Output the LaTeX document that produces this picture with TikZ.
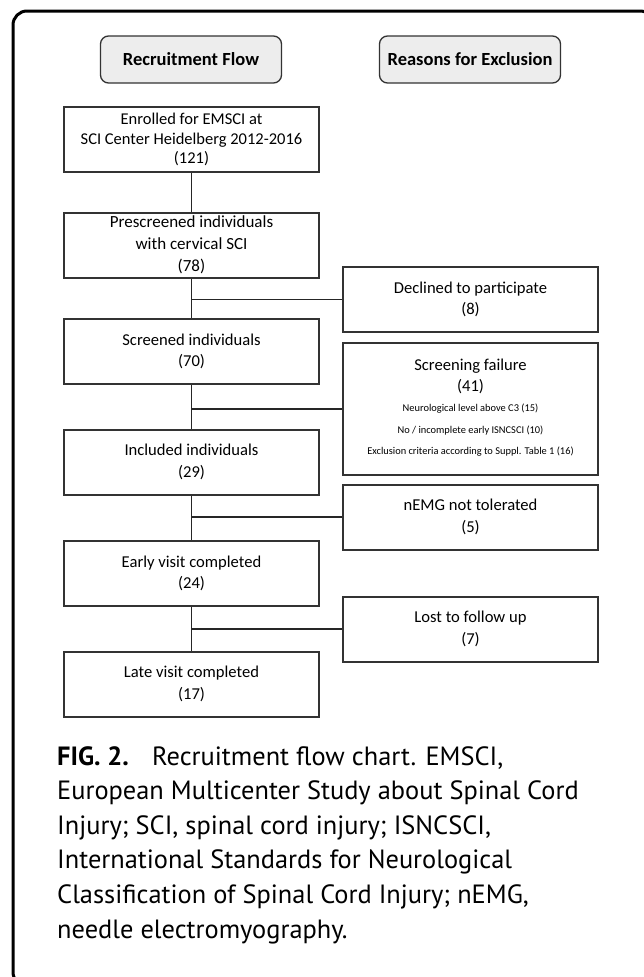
\documentclass[tikz,border=0pt]{standalone}
\usepackage{fontspec}
\setmainfont{Carlito}
\newfontfamily\capfont{PT Sans}
\begin{document}
\begin{tikzpicture}[x=1pt,y=-1pt,
  frame/.style={line width=3pt, rounded corners=14pt},
  headbox/.style={draw=black!80, fill=black!7, line width=1.3pt, rounded corners=8pt,
    minimum width=181pt, minimum height=47pt, inner sep=0pt, font=\fontsize{18.5}{22}\selectfont\bfseries},
  flowbox/.style={draw=black!80, line width=2pt, minimum width=255pt, minimum height=65pt,
    inner sep=0pt, align=center, font=\fontsize{16.6}{21.5}\selectfont},
  small/.style={font=\fontsize{10.4}{12}\selectfont},
  link/.style={draw=black!85, line width=1.5pt}
]
\useasboundingbox (0,0) rectangle (644,977);
\begin{scope}
\clip (0,0) rectangle (644,977);
\draw[frame] (13,11) rectangle (654,986);
\end{scope}

% headers
\node[headbox] (hflow) at (191,59.5) {Recruitment Flow};
\node[headbox] (hexcl) at (470,59.5) {Reasons for Exclusion};

% left column
\node[flowbox, line width=2.6pt, font=\fontsize{16.5}{19.5}\selectfont] (enr) at (191.5,139.5) {Enrolled for EMSCI at\\SCI Center Heidelberg 2012-2016\\(121)};
\node[flowbox, font=\fontsize{17}{22}\selectfont] (pre) at (191.5,245) {Prescreened individuals\\with cervical SCI\\(78)};
\node[flowbox] (scr) at (191.5,351.5) {Screened individuals\\(70)};
\node[flowbox] (inc) at (191.5,462) {Included individuals\\(29)};
\node[flowbox] (early) at (191.5,573.5) {Early visit completed\\(24)};
\node[flowbox] (late) at (191.5,684) {Late visit completed\\(17)};

% right column
\node[flowbox] (dec) at (470.5,299.5) {Declined to participate\\(8)};
\node[flowbox, minimum height=132pt] (fail) at (470.5,409) {};
\node (failt) at (470.5,376.5) [align=center, font=\fontsize{16.6}{21.5}\selectfont, inner sep=0pt] {Screening failure\\(41)};
\node[small, inner sep=0pt] (f1) at (470.5,409) {Neurological level above C3 (15)};
\node[small, inner sep=0pt] (f2) at (470.5,430.5) {No / incomplete early ISNCSCI (10)};
\node[small, inner sep=0pt] (f3) at (470.5,452) {Exclusion criteria according to Suppl. Table 1 (16)};
\node[flowbox] (nemg) at (470.5,517) {nEMG not tolerated\\(5)};
\node[flowbox] (lost) at (470.5,629) {Lost to follow up\\(7)};

% connectors
\draw[link] (enr.south) -- (pre.north);
\draw[link] (pre.south) -- (scr.north);
\draw[link] (pre.south |- dec.west) -- (dec.west);
\draw[link] (scr.south) -- (inc.north);
\draw[link] (scr.south |- fail.west) -- (fail.west);
\draw[link] (inc.south) -- (early.north);
\draw[link] (inc.south |- nemg.west) -- (nemg.west);
\draw[link] (early.south) -- (late.north);
\draw[link] (early.south |- lost.west) -- (lost.west);

% caption
\node[anchor=base west, inner sep=0pt, align=left, font=\capfont\fontsize{26.4}{34.6}\selectfont] (cap) at (57,938)
{{\bfseries FIG. 2.}\hspace{14pt} Recruitment flow chart. EMSCI,\\
European Multicenter Study about Spinal Cord\\
Injury; SCI, spinal cord injury; ISNCSCI,\\
International Standards for Neurological\\
Classification of Spinal Cord Injury; nEMG,\\
needle electromyography.};
\end{tikzpicture}
\end{document}
